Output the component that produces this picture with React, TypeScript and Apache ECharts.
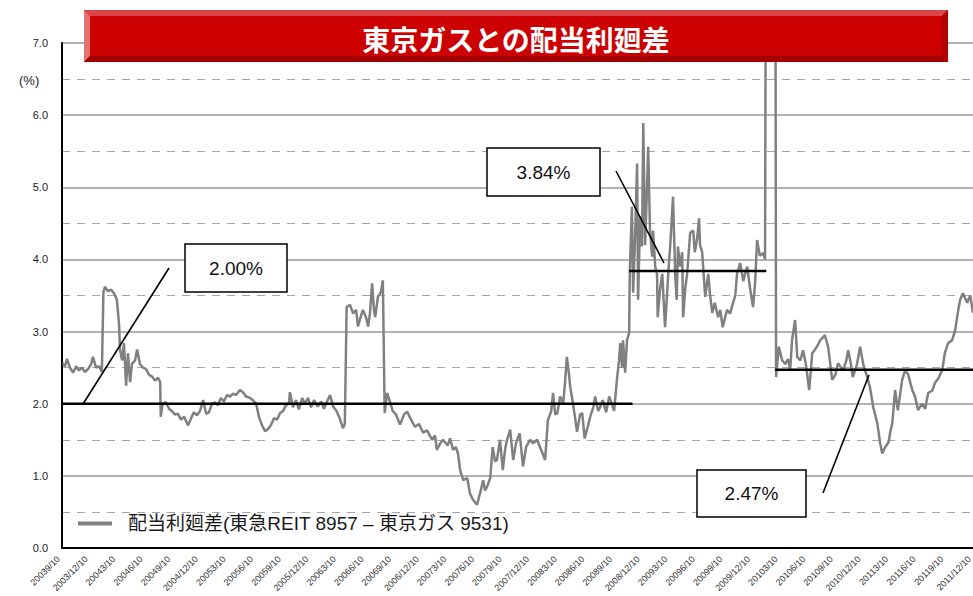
import React, { useEffect, useRef } from "react";
import * as echarts from "echarts";

// ---- data ----
const seriesName = "配当利廻差(東急REIT 8957 – 東京ガス 9531)";
const chartTitle = "東京ガスとの配当利廻差";

const tickLabels = [
  "20039/10", "2003/12/10", "20043/10", "20046/10", "20049/10", "2004/12/10",
  "20053/10", "20056/10", "20059/10", "2005/12/10", "20063/10", "20066/10",
  "20069/10", "2006/12/10", "20073/10", "20076/10", "20079/10", "2007/12/10",
  "20083/10", "20086/10", "20089/10", "2008/12/10", "20093/10", "20096/10",
  "20099/10", "2009/12/10", "20103/10", "20106/10", "20109/10", "2010/12/10",
  "20113/10", "20116/10", "20119/10", "2011/12/10",
];

const spread2003to2005: [string, number][] = [
  ["2003/9/12", 2.56], ["2003/9/20", 2.52], ["2003/9/26", 2.62], ["2003/10/6", 2.5],
  ["2003/10/16", 2.43], ["2003/10/26", 2.52], ["2003/11/5", 2.46], ["2003/11/15", 2.5],
  ["2003/11/25", 2.44], ["2003/12/5", 2.48], ["2003/12/15", 2.55], ["2003/12/21", 2.65],
  ["2003/12/31", 2.5], ["2004/1/11", 2.52], ["2004/1/20", 2.44], ["2004/1/25", 3.55],
  ["2004/1/30", 3.62], ["2004/2/10", 3.56], ["2004/2/20", 3.58], ["2004/3/1", 3.52],
  ["2004/3/9", 3.44], ["2004/3/16", 3.1], ["2004/3/19", 2.75], ["2004/3/26", 2.6],
  ["2004/4/2", 2.84], ["2004/4/9", 2.25], ["2004/4/15", 2.7], ["2004/4/22", 2.3],
  ["2004/4/28", 2.55], ["2004/5/8", 2.6], ["2004/5/15", 2.75], ["2004/5/24", 2.55],
  ["2004/6/4", 2.5], ["2004/6/14", 2.48], ["2004/6/24", 2.4], ["2004/7/3", 2.38],
  ["2004/7/13", 2.32], ["2004/7/23", 2.36], ["2004/7/30", 2.3], ["2004/8/2", 1.82],
  ["2004/8/8", 2.0], ["2004/8/19", 2.02], ["2004/8/29", 1.93], ["2004/9/8", 1.9],
  ["2004/9/18", 1.85], ["2004/9/28", 1.86], ["2004/10/8", 1.78], ["2004/10/18", 1.82],
  ["2004/10/31", 1.7], ["2004/11/11", 1.8], ["2004/11/20", 1.88], ["2004/11/30", 1.84],
  ["2004/12/10", 1.9], ["2004/12/20", 2.05], ["2004/12/30", 1.86], ["2005/1/9", 1.88],
  ["2005/1/19", 2.0], ["2005/1/29", 2.02], ["2005/2/8", 1.98], ["2005/2/18", 2.08],
  ["2005/2/28", 2.03], ["2005/3/8", 2.12], ["2005/3/18", 2.1], ["2005/3/28", 2.14],
  ["2005/4/7", 2.12], ["2005/4/20", 2.19], ["2005/4/30", 2.16], ["2005/5/10", 2.1],
  ["2005/5/23", 2.08], ["2005/6/2", 2.05], ["2005/6/13", 2.0], ["2005/6/22", 1.82],
  ["2005/7/2", 1.7], ["2005/7/12", 1.62], ["2005/7/22", 1.65], ["2005/8/1", 1.7],
  ["2005/8/11", 1.8], ["2005/8/21", 1.78], ["2005/8/31", 1.87], ["2005/9/11", 1.9],
  ["2005/9/20", 1.98], ["2005/9/30", 2.0], ["2005/10/3", 2.16], ["2005/10/13", 1.95],
  ["2005/10/23", 2.05], ["2005/11/2", 1.92], ["2005/11/13", 2.08], ["2005/11/22", 2.0],
  ["2005/12/2", 2.08], ["2005/12/12", 1.95],
];

const spread2006to2008: [string, number][] = [
  ["2005/12/22", 2.05], ["2006/1/4", 1.96], ["2006/1/15", 2.03], ["2006/1/24", 1.93],
  ["2006/2/3", 2.02], ["2006/2/14", 2.12], ["2006/2/24", 1.96], ["2006/3/5", 1.9],
  ["2006/3/17", 1.78], ["2006/3/26", 1.66], ["2006/4/2", 1.72], ["2006/4/8", 3.34],
  ["2006/4/19", 3.37], ["2006/4/29", 3.25], ["2006/5/9", 3.3], ["2006/5/15", 3.07],
  ["2006/5/25", 3.22], ["2006/6/1", 3.3], ["2006/6/11", 3.2], ["2006/6/18", 3.07],
  ["2006/6/24", 3.25], ["2006/7/1", 3.67], ["2006/7/7", 3.3], ["2006/7/11", 3.2],
  ["2006/7/20", 3.48], ["2006/7/30", 3.55], ["2006/8/6", 3.71], ["2006/8/12", 1.87],
  ["2006/8/20", 2.15], ["2006/8/30", 2.02], ["2006/9/8", 1.9], ["2006/9/19", 1.85],
  ["2006/10/2", 1.71], ["2006/10/15", 1.85], ["2006/10/25", 1.89], ["2006/11/8", 1.78],
  ["2006/11/21", 1.68], ["2006/12/4", 1.72], ["2006/12/17", 1.6], ["2006/12/30", 1.63],
  ["2007/1/10", 1.55], ["2007/1/17", 1.5], ["2007/1/26", 1.56], ["2007/2/2", 1.36],
  ["2007/2/13", 1.45], ["2007/2/22", 1.5], ["2007/3/7", 1.42], ["2007/3/15", 1.52],
  ["2007/3/25", 1.36], ["2007/4/4", 1.4], ["2007/4/11", 1.31], ["2007/4/18", 1.08],
  ["2007/4/28", 0.94], ["2007/5/11", 0.97], ["2007/5/20", 0.76], ["2007/5/30", 0.67],
  ["2007/6/13", 0.6], ["2007/6/23", 0.76], ["2007/7/3", 0.94], ["2007/7/9", 0.8],
  ["2007/7/16", 0.85], ["2007/7/26", 0.97], ["2007/8/4", 1.4], ["2007/8/12", 1.2],
  ["2007/8/18", 1.22], ["2007/8/28", 1.5], ["2007/9/7", 1.08], ["2007/9/15", 1.38],
  ["2007/9/21", 1.5], ["2007/10/1", 1.64], ["2007/10/11", 1.22], ["2007/10/20", 1.45],
  ["2007/11/2", 1.59], ["2007/11/13", 1.13], ["2007/11/23", 1.4], ["2007/12/6", 1.5],
  ["2007/12/16", 1.45], ["2007/12/29", 1.5], ["2008/1/8", 1.4], ["2008/1/18", 1.3],
  ["2008/1/25", 1.22], ["2008/2/4", 1.77], ["2008/2/15", 1.9], ["2008/2/21", 2.15],
  ["2008/2/28", 1.85], ["2008/3/5", 1.87], ["2008/3/14", 2.1], ["2008/3/24", 2.0],
  ["2008/3/30", 2.3], ["2008/4/6", 2.65], ["2008/4/13", 2.4], ["2008/4/17", 2.23],
  ["2008/4/26", 2.0], ["2008/5/3", 1.8], ["2008/5/9", 1.61], ["2008/5/19", 1.85],
  ["2008/5/26", 1.87], ["2008/6/4", 1.52], ["2008/6/15", 1.7], ["2008/6/22", 1.82],
  ["2008/7/2", 1.95], ["2008/7/8", 2.1], ["2008/7/18", 1.9], ["2008/7/24", 1.95],
];

const spread2008to2010: [string, number][] = [
  ["2008/8/3", 2.05], ["2008/8/14", 1.88], ["2008/8/24", 2.1], ["2008/9/2", 2.0],
  ["2008/9/10", 1.9], ["2008/9/20", 2.37], ["2008/9/26", 2.6], ["2008/9/30", 2.84],
  ["2008/10/6", 2.5], ["2008/10/9", 2.88], ["2008/10/16", 2.43], ["2008/10/22", 2.88],
  ["2008/10/29", 2.98], ["2008/11/1", 3.81], ["2008/11/8", 4.73], ["2008/11/12", 3.54],
  ["2008/11/18", 4.27], ["2008/11/25", 5.33], ["2008/11/28", 3.44], ["2008/12/5", 4.6],
  ["2008/12/11", 4.18], ["2008/12/15", 5.89], ["2008/12/21", 4.2], ["2008/12/28", 5.1],
  ["2008/12/31", 5.56], ["2009/1/7", 4.4], ["2009/1/14", 4.04], ["2009/1/17", 4.4],
  ["2009/1/24", 3.9], ["2009/1/30", 3.8], ["2009/2/2", 3.2], ["2009/2/10", 3.6],
  ["2009/2/17", 3.8], ["2009/2/26", 3.06], ["2009/3/8", 3.9], ["2009/3/13", 4.2],
  ["2009/3/22", 4.87], ["2009/3/29", 3.8], ["2009/4/4", 3.44], ["2009/4/8", 4.18],
  ["2009/4/15", 3.9], ["2009/4/22", 4.1], ["2009/4/25", 3.2], ["2009/5/2", 3.6],
  ["2009/5/8", 3.8], ["2009/5/18", 4.37], ["2009/5/28", 4.4], ["2009/6/3", 4.1],
  ["2009/6/11", 4.3], ["2009/6/17", 4.57], ["2009/6/20", 4.2], ["2009/6/27", 4.1],
  ["2009/7/7", 3.48], ["2009/7/17", 3.8], ["2009/7/23", 3.5], ["2009/7/30", 3.26],
  ["2009/8/8", 3.4], ["2009/8/19", 3.2], ["2009/8/26", 3.3], ["2009/9/4", 3.06],
  ["2009/9/12", 3.2], ["2009/9/18", 3.3], ["2009/9/28", 3.25], ["2009/10/8", 3.4],
  ["2009/10/15", 3.5], ["2009/10/21", 3.81], ["2009/10/31", 3.95], ["2009/11/11", 3.7],
  ["2009/11/17", 3.8], ["2009/11/24", 3.9], ["2009/12/3", 3.6], ["2009/12/13", 3.34],
  ["2009/12/20", 3.7], ["2009/12/26", 4.27], ["2010/1/5", 4.05], ["2010/1/16", 4.09],
  ["2010/1/22", 4.0], ["2010/1/26", 10.5], ["2010/2/25", 10.5], ["2010/2/28", 2.37],
];

const spread2010to2011: [string, number][] = [
  ["2010/3/7", 2.79], ["2010/3/18", 2.6], ["2010/3/28", 2.55], ["2010/4/7", 2.62],
  ["2010/4/14", 2.47], ["2010/4/20", 2.88], ["2010/4/30", 3.16], ["2010/5/7", 2.65],
  ["2010/5/17", 2.6], ["2010/5/26", 2.74], ["2010/6/5", 2.55], ["2010/6/16", 2.19],
  ["2010/6/26", 2.7], ["2010/7/5", 2.75], ["2010/7/15", 2.82], ["2010/7/22", 2.88],
  ["2010/8/1", 2.92], ["2010/8/7", 2.95], ["2010/8/18", 2.78], ["2010/8/31", 2.33],
  ["2010/9/11", 2.4], ["2010/9/20", 2.56], ["2010/9/30", 2.5], ["2010/10/7", 2.47],
  ["2010/10/17", 2.6], ["2010/10/23", 2.74], ["2010/11/2", 2.55], ["2010/11/8", 2.37],
  ["2010/11/22", 2.55], ["2010/12/2", 2.79], ["2010/12/12", 2.55], ["2010/12/25", 2.37],
  ["2011/1/4", 2.23], ["2011/1/15", 1.95], ["2011/1/28", 1.73], ["2011/2/7", 1.46],
  ["2011/2/14", 1.31], ["2011/2/24", 1.4], ["2011/3/5", 1.47], ["2011/3/10", 1.6],
  ["2011/3/17", 1.73], ["2011/3/26", 2.19], ["2011/4/5", 1.91], ["2011/4/19", 2.33],
  ["2011/4/29", 2.47], ["2011/5/9", 2.4], ["2011/5/22", 2.19], ["2011/6/1", 2.1],
  ["2011/6/11", 1.91], ["2011/6/24", 2.0], ["2011/7/4", 1.93], ["2011/7/14", 2.15],
  ["2011/7/27", 2.18], ["2011/8/6", 2.29], ["2011/8/17", 2.35], ["2011/8/30", 2.47],
  ["2011/9/8", 2.7], ["2011/9/19", 2.84], ["2011/10/2", 2.88], ["2011/10/12", 3.02],
  ["2011/10/22", 3.3], ["2011/10/28", 3.44], ["2011/11/7", 3.53], ["2011/11/21", 3.4],
  ["2011/12/1", 3.5], ["2011/12/10", 3.26],
];

// period averages
const avgFrom = ["2003/9/10", "2008/10/29", "2010/2/25"];
const avgTo = ["2008/11/10", "2010/1/26", "2011/12/10"];
const avgValue = [2.0, 3.84, 2.47];

// ---- helpers ----
const START_Y = 2003;
const START_M = 9;
function monthOffset(d: string): number {
  const [y, m, day] = d.split("/").map(Number);
  return (y - START_Y) * 12 + (m - START_M) + (day - 10) / 30;
}

const FONT = "'Liberation Sans', 'Noto Sans CJK JP', Arial, sans-serif";
const JP = "'Noto Sans CJK JP', 'Liberation Sans', sans-serif";

export default function App() {
  const ref = useRef<HTMLDivElement>(null);
  useEffect(() => {
    if (!ref.current) return;
    const chart = echarts.init(ref.current, null, { renderer: "svg" });
    const all = [...spread2003to2005, ...spread2006to2008, ...spread2008to2010, ...spread2010to2011];
    const mainData = all.map(([d, v]) => [monthOffset(d), v]);
    const avgSeries = avgValue.map((v, i) => ({
      type: "line",
      silent: true,
      symbol: "none",
      z: 4,
      data: [
        [monthOffset(avgFrom[i]), v],
        [monthOffset(avgTo[i]), v],
      ],
      lineStyle: { color: "#000", width: 2.5 },
    }));

    const boxes = [
      { x: 185, y: 244, w: 102, h: 48, line: [83, 404, 169, 268] },
      { x: 487, y: 148, w: 113, h: 48, line: [616, 171, 664, 263] },
      { x: 697, y: 470, w: 109, h: 47, line: [869, 375, 823, 493] },
    ];
    const annot: any[] = [];
    boxes.forEach((b, i) => {
      annot.push({
        type: "line",
        shape: { x1: b.line[0], y1: b.line[1], x2: b.line[2], y2: b.line[3] },
        style: { stroke: "#000", lineWidth: 1.6 },
        z: 10,
      });
      annot.push({
        type: "rect",
        shape: { x: b.x, y: b.y, width: b.w, height: b.h },
        style: { fill: "#fff", stroke: "#000", lineWidth: 1.5 },
        z: 10,
      });
      annot.push({
        type: "text",
        x: b.x + b.w / 2,
        y: b.y + b.h / 2,
        style: {
          text: avgValue[i].toFixed(2) + "%",
          fill: "#111",
          font: `19px ${FONT}`,
          textAlign: "center",
          textVerticalAlign: "middle",
        },
        z: 11,
      });
    });

    const tL = 84, tR = 948, tT = 10, tB = 62, bv = 6;
    const title: any[] = [
      { type: "rect", shape: { x: tL, y: tT, width: tR - tL, height: tB - tT }, style: { fill: "#cc0000" }, z: 20 },
      { type: "polygon", shape: { points: [[tL, tT], [tR, tT], [tR - bv, tT + bv], [tL + bv, tT + bv]] }, style: { fill: "#da4545" }, z: 21 },
      { type: "polygon", shape: { points: [[tL, tT], [tL + bv, tT + bv], [tL + bv, tB - bv], [tL, tB]] }, style: { fill: "#e37272" }, z: 21 },
      { type: "polygon", shape: { points: [[tL, tB], [tL + bv, tB - bv], [tR - bv, tB - bv], [tR, tB]] }, style: { fill: "#a30000" }, z: 21 },
      { type: "polygon", shape: { points: [[tR, tT], [tR, tB], [tR - bv, tB - bv], [tR - bv, tT + bv]] }, style: { fill: "#b30000" }, z: 21 },
      {
        type: "text", x: (tL + tR) / 2, y: 39, z: 22,
        style: { text: chartTitle, fill: "#fff", font: `bold 28px ${JP}`, textAlign: "center", textVerticalAlign: "middle" },
      },
    ];

    chart.setOption({
      animation: false,
      backgroundColor: "#fff",
      grid: { left: 62, right: 0, top: 43, bottom: 48, containLabel: false, outerBoundsMode: "none" },
      legend: {
        data: [seriesName],
        left: 78,
        top: 514,
        padding: 0,
        icon: "rect",
        itemWidth: 34,
        itemHeight: 4,
        itemStyle: { color: "#808080" },
        textStyle: { fontSize: 19, color: "#1a1a1a", fontFamily: FONT, padding: [0, 0, 0, 11] },
      },
      xAxis: [
        {
          type: "value",
          min: 0,
          max: 99,
          interval: 3,
          axisLine: { show: true, onZero: false, lineStyle: { color: "#000", width: 2 } },
          axisTick: { show: false },
          splitLine: { show: false },
          axisLabel: {
            rotate: 45,
            fontSize: 9,
            color: "#333",
            fontFamily: FONT,
            margin: 6,
            padding: [0, 5, 0, 0],
            showMinLabel: true,
            showMaxLabel: true,
            formatter: (v: number) => tickLabels[Math.round(v / 3)] ?? "",
          },
        },
        {
          type: "value",
          position: "top",
          min: 0,
          max: 99,
          axisLine: { show: true, lineStyle: { color: "#000", width: 1 } },
          axisTick: { show: false },
          axisLabel: { show: false },
          splitLine: { show: false },
        },
      ],
      yAxis: [
        {
          type: "value",
          min: 0,
          max: 7,
          interval: 1,
          axisLine: { show: true, onZero: false, lineStyle: { color: "#000", width: 2 } },
          axisTick: { show: false },
          axisLabel: { formatter: (v: number) => v.toFixed(1), fontSize: 11, color: "#222", fontFamily: FONT, margin: 14 },
          splitLine: { show: true, lineStyle: { color: "#9a9a9a", width: 1.5 } },
        },
        {
          type: "value",
          min: 0,
          max: 7,
          interval: 0.5,
          position: "left",
          axisLine: { show: false },
          axisTick: { show: false },
          axisLabel: { show: false },
          splitLine: { show: true, lineStyle: { color: ["rgba(0,0,0,0)", "#a6a6a6"], width: 1, type: [8, 7] } },
        },
      ],
      series: [
        {
          name: seriesName,
          type: "line",
          data: mainData,
          symbol: "none",
          clip: true,
          z: 3,
          lineStyle: { color: "#808080", width: 2.5 },
          itemStyle: { color: "#808080" },
        },
        ...avgSeries,
      ],
      graphic: [
        ...title,
        {
          type: "text", x: 19, y: 80, z: 10,
          style: { text: "(%)", fill: "#222", font: `13px ${FONT}`, textVerticalAlign: "middle" },
        },
        ...annot,
      ],
    });
    return () => chart.dispose();
  }, []);
  return (
    <div
      ref={ref}
      style={{ position: "fixed", left: 0, top: 0, width: 973, height: 596, background: "#fff" }}
    />
  );
}
